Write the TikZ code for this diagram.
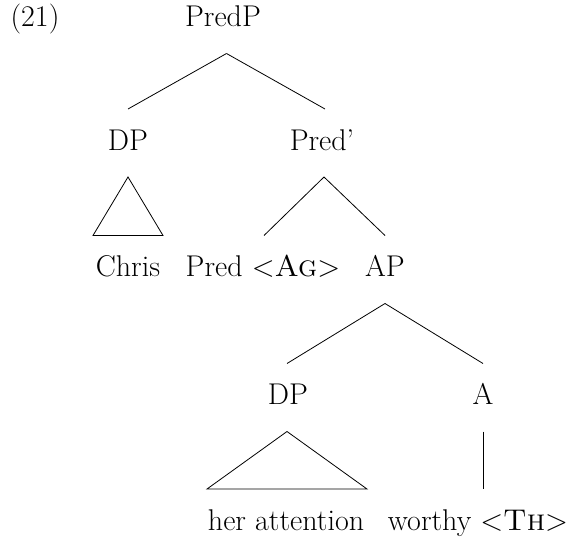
\documentclass[tikz,border=0pt]{standalone}
\usepackage{tikz}
\usetikzlibrary{positioning}

\begin{document}
\begin{tikzpicture}[
    on grid, % place nodes by their centres
    font = \fontsize{30}{36}\selectfont,
    line width = 0.8pt % line style
    ]

    \tikzset{every node/.style={
    inner sep = 0pt,
    text height = 0.9em, % keeps the centre at mid cap height
    text depth = 0.217em
    }}
    \useasboundingbox (0,0) rectangle (569pt,-546pt);

    \node (ex) at (35pt,-23.5pt) {(21)};
    \node (predp) at (223pt,-23.5pt) {PredP};
    \node (dpa) [below left=123.5pt and 95pt of predp] {DP};
    \node (predbar) [below right=123.5pt and 99pt of predp] {Pred'};
    \node (chris) [below=126.5pt of dpa] {Chris};
    \node (pred) [below left=126.5pt and 59pt of predbar] {Pred <\textsc{Ag}>};
    \node (ap) [below right=126.5pt and 63pt of predbar] {AP};
    \node (dpb) [below left=128pt and 97pt of ap] {DP};
    \node (a) [below right=128pt and 98pt of ap] {A};
    \node (herattn) [below left=125.5pt and 2pt of dpb] {her attention};
    \node (worthy) [below left=125.5pt and 5pt of a] {worthy <\textsc{Th}>};

    % branches
    \draw ([xshift=3.5pt,yshift=-30pt]predp.center) -- ([yshift=38pt]dpa.center);
    \draw ([xshift=3.5pt,yshift=-30pt]predp.center) -- ([xshift=3pt,yshift=38pt]predbar.center);
    \draw ([xshift=2pt,yshift=-30pt]predbar.center) -- ([xshift=1pt,yshift=38pt]pred.center);
    \draw ([xshift=2pt,yshift=-30pt]predbar.center) -- ([yshift=38pt]ap.center);
    \draw ([yshift=-30pt]ap.center) -- ([xshift=-1pt,yshift=38pt]dpb.center);
    \draw ([yshift=-30pt]ap.center) -- ([yshift=38pt]a.center);
    \draw ([yshift=-30pt]a.center) -- ([xshift=5pt,yshift=38pt]worthy.center);

    % triangles
    \draw ([yshift=-30pt]dpa.center) -- ([xshift=-35pt,yshift=38pt]chris.center)
        -- ([xshift=35pt,yshift=38pt]chris.center) -- cycle;
    \draw ([xshift=-1pt,yshift=-30pt]dpb.center) -- ([xshift=-79pt,yshift=38pt]herattn.center)
        -- ([xshift=81pt,yshift=38pt]herattn.center) -- cycle;
\end{tikzpicture}
\end{document}
